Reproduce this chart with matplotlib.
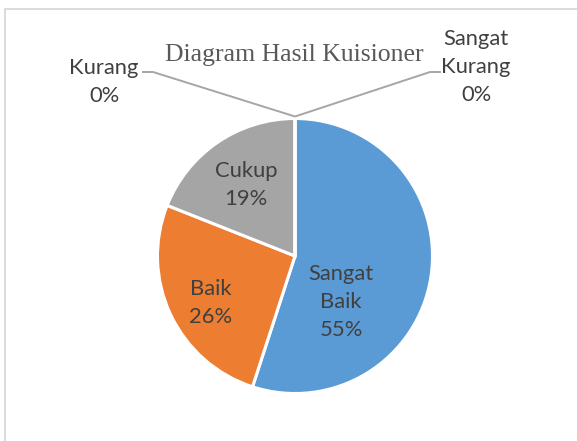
import matplotlib.pyplot as plt
from matplotlib.patches import Rectangle

categories = ["Sangat Baik", "Baik", "Cukup", "Kurang", "Sangat Kurang"]
values = [55, 26, 19, 0, 0]
colors = ["#5B9BD5", "#ED7D31", "#A5A5A5", "#FFC000", "#4472C4"]
title = "Diagram Hasil Kuisioner"

W, H = 577, 441
cx, cy, r = 295, H - 256, 137.5

fig = plt.figure(figsize=(W / 100, H / 100), dpi=100)
ax = fig.add_axes([0, 0, 1, 1])
ax.set_xlim(0, W)
ax.set_ylim(0, H)
ax.axis("off")

# chart frame (only top and left edges fall inside the image)
ax.add_patch(Rectangle((5, -20), W + 40, H - 9 + 20, fill=False,
                       edgecolor="#D9D9D9", linewidth=1.3))

ax.pie(values, colors=colors, startangle=90, counterclock=False,
       center=(cx, cy), radius=r,
       wedgeprops=dict(edgecolor="white", linewidth=2.2))
ax.set_xlim(0, W)
ax.set_ylim(0, H)
ax.set_aspect("equal")

lab_font = dict(family="Lato", fontsize=15.8, color="#404040",
                ha="center", va="center", linespacing=1.47)

# label text for each slice
texts = {
    "Sangat Baik": "Sangat\nBaik\n{}%",
    "Baik": "Baik\n{}%",
    "Cukup": "Cukup\n{}%",
    "Kurang": "Kurang\n{}%",
    "Sangat Kurang": "Sangat\nKurang\n{}%",
}
# label centres, offset from the pie centre in pixels (down is negative)
offsets = {
    "Sangat Baik": (46, -46),
    "Baik": (-84, -47),
    "Cukup": (-49, 71),
    "Kurang": (-191, 174),
    "Sangat Kurang": (181, 189),
}
for cat, v in zip(categories, values):
    dx, dy = offsets[cat]
    ax.text(cx + dx, cy + dy, texts[cat].format(v), **lab_font)

# leader lines for the empty slices
tip = (cx, cy + r + 2)
ax.plot([tip[0], 153, 142], [tip[1], H - 72, H - 72],
        color="#A6A6A6", linewidth=1.4, solid_capstyle="butt")
ax.plot([tip[0], 430, 441], [tip[1], H - 72, H - 72],
        color="#A6A6A6", linewidth=1.4, solid_capstyle="butt")

ax.text(294, H - 61, title, family="Liberation Serif", fontsize=18.5,
        color="#595959", ha="center", va="baseline")

fig.savefig("out.png", dpi=100)
